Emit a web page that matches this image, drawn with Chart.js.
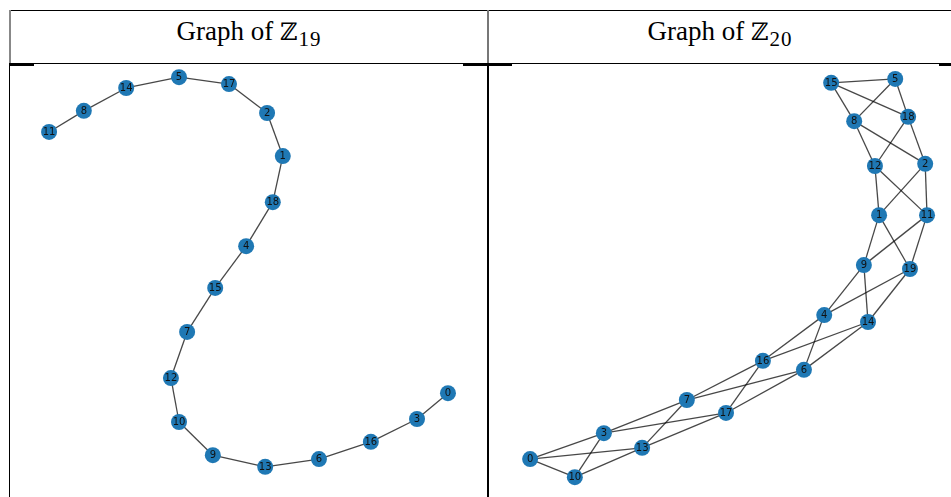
<!DOCTYPE html>
<html>
<head>
<meta charset="utf-8">
<script src="https://cdn.jsdelivr.net/npm/chart.js@4.4.1/dist/chart.umd.min.js"></script>
<style>
  body { margin: 0; background: #fff; width: 951px; height: 497px; overflow: hidden; position: relative; }
  .ln { position: absolute; background: #000; }
  .hd { position: absolute; top: 18px; line-height: 27px; text-align: center; white-space: nowrap;
        font-family: 'Liberation Serif', 'Times New Roman', serif; font-size: 27px; color: #000; }
  .hd .z { font-family: 'DejaVu Serif', serif; font-size: 24px; }
  .hd .s { font-size: 21px; position: relative; top: 6px; margin-left: 1px; letter-spacing: 1px; }
  canvas { position: absolute; }
</style>
</head>
<body>
<!-- table borders -->
<div class="ln" style="left:9px;top:10px;width:942px;height:1px"></div>
<div class="ln" style="left:9px;top:10px;width:2px;height:54px;background:#888"></div>
<div class="ln" style="left:487px;top:10px;width:2px;height:54px;background:#777"></div>
<div class="ln" style="left:9px;top:63px;width:942px;height:1px"></div>
<div class="ln" style="left:9px;top:64px;width:1px;height:433px"></div>
<div class="ln" style="left:487px;top:64px;width:2px;height:433px"></div>
<div class="ln" style="left:10px;top:64px;width:24px;height:2px"></div>
<div class="ln" style="left:463px;top:64px;width:49px;height:2px"></div>
<div class="ln" style="left:939px;top:64px;width:12px;height:2px"></div>

<div class="hd" style="left:11px;width:476px">Graph of <span class="z">ℤ</span><span class="s">19</span></div>
<div class="hd" style="left:489px;width:462px">Graph of <span class="z">ℤ</span><span class="s">20</span></div>

<canvas id="z19" width="476" height="431" style="left:11px;top:66px"></canvas>
<canvas id="z20" width="461" height="431" style="left:490px;top:66px"></canvas>

<script>
// Z19 layout (node label -> position, 0..100 both axes)
const z19Nodes = [11, 8, 14, 5, 17, 2, 1, 18, 4, 15, 7, 12, 10, 9, 13, 6, 16, 3, 0]
const z19X = [8.0, 15.3, 24.2, 35.3, 45.8, 53.8, 57.1, 55.0, 49.4, 42.9, 37.0, 33.6, 35.3, 42.4, 53.4, 64.7, 75.6, 85.3, 91.8]
const z19Y = [84.7, 89.6, 94.9, 97.4, 95.8, 89.1, 79.1, 68.4, 58.2, 48.5, 38.3, 27.6, 17.4, 9.7, 7.0, 8.8, 12.8, 18.1, 24.1]
const z19Edges = [
  [11, 8], [8, 14], [14, 5], [5, 17], [17, 2], [2, 1], [1, 18], [18, 4], [4, 15],
  [15, 7], [7, 12], [12, 10], [10, 9], [9, 13], [13, 6], [6, 16], [16, 3], [3, 0],
]

// Z20 layout
const z20Nodes = [15, 5, 8, 18, 12, 2, 1, 11, 9, 19, 4, 14, 16, 6, 7, 17, 3, 13, 0, 10]
const z20X = [74.0, 87.9, 79.0, 90.7, 83.5, 94.4, 84.4, 94.8, 81.1, 91.1, 72.5, 82.0, 59.2, 68.1, 42.7, 51.2, 24.7, 33.0, 8.7, 18.4]
const z20Y = [96.1, 97.0, 87.2, 88.2, 76.8, 77.3, 65.4, 65.4, 53.8, 52.9, 42.2, 40.6, 31.6, 29.5, 22.5, 19.5, 14.8, 11.4, 8.8, 4.6]
const z20Edges = [
  [15, 5], [15, 8], [15, 18], [5, 8], [5, 18], [8, 12], [8, 2], [18, 12], [18, 2],
  [12, 1], [12, 11], [2, 1], [2, 11], [1, 9], [1, 19], [11, 9], [11, 19],
  [9, 4], [9, 14], [19, 4], [19, 14], [4, 16], [4, 6], [14, 16], [14, 6],
  [16, 7], [16, 17], [6, 7], [6, 17], [7, 3], [7, 13], [17, 3], [17, 13],
  [3, 0], [3, 10], [13, 0], [13, 10], [0, 10],
]

const nodeLabels = {
  id: 'nodeLabels',
  afterDatasetsDraw(chart) {
    const { ctx, scales } = chart
    const pts = chart.data.datasets[0].data
    ctx.save()
    ctx.font = '10px "DejaVu Sans", sans-serif'
    ctx.fillStyle = '#111'
    ctx.textAlign = 'center'
    ctx.textBaseline = 'middle'
    pts.forEach((p) => {
      ctx.fillText(String(p.label), scales.x.getPixelForValue(p.x), scales.y.getPixelForValue(p.y) + 0.5)
    })
    ctx.restore()
  },
}

function drawGraph(id, nodes, xs, ys, edges) {
  const pos = {}
  nodes.forEach((n, i) => { pos[n] = { x: xs[i], y: ys[i], label: n } })
  const datasets = [{
    type: 'scatter',
    data: nodes.map((n) => pos[n]),
    backgroundColor: '#1f78b4',
    borderWidth: 0,
    pointRadius: 8,
  }]
  edges.forEach(([a, b]) => {
    datasets.push({
      type: 'scatter',
      data: [pos[a], pos[b]],
      showLine: true,
      borderColor: 'rgba(0,0,0,0.72)',
      borderWidth: 1.3,
      pointRadius: 0,
    })
  })
  new Chart(document.getElementById(id), {
    type: 'scatter',
    data: { datasets },
    options: {
      responsive: false,
      animation: false,
      layout: { padding: 0, autoPadding: false },
      scales: {
        x: { type: 'linear', min: 0, max: 100, display: false },
        y: { type: 'linear', min: 0, max: 100, display: false },
      },
      plugins: { legend: { display: false }, tooltip: { enabled: false } },
    },
    plugins: [nodeLabels],
  })
}

drawGraph('z19', z19Nodes, z19X, z19Y, z19Edges)
drawGraph('z20', z20Nodes, z20X, z20Y, z20Edges)
</script>
</body>
</html>
